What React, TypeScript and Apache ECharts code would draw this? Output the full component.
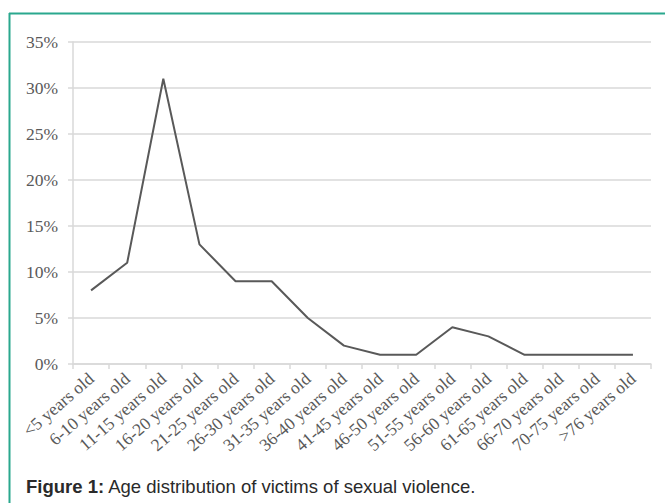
import React, { useEffect, useRef } from "react";
import * as echarts from "echarts";

const categories = [
  "<5 years old", "6-10 years old", "11-15 years old", "16-20 years old",
  "21-25 years old", "26-30 years old", "31-35 years old", "36-40 years old",
  "41-45 years old", "46-50 years old", "51-55 years old", "56-60 years old",
  "61-65 years old", "66-70 years old", "70-75 years old", ">76 years old",
];
const values = [8, 11, 31, 13, 9, 9, 5, 2, 1, 1, 4, 3, 1, 1, 1, 1];
const yMax = 35;
const yStep = 5;
const caption = "Age distribution of victims of sexual violence.";
const captionLabel = "Figure 1:";

export default function App() {
  const ref = useRef<HTMLDivElement>(null);
  useEffect(() => {
    if (!ref.current) return;
    const chart = echarts.init(ref.current, null, { renderer: "svg" });
    const gray = "#d9d9d9";
    chart.setOption({
      animation: false,
      backgroundColor: "#ffffff",
      grid: { left: 73, right: 14, top: 42, bottom: 139, containLabel: false },
      xAxis: {
        type: "category",
        data: categories,
        boundaryGap: true,
        axisLine: { show: true, lineStyle: { color: gray, width: 1.5 } },
        axisTick: { show: true, length: 5, lineStyle: { color: gray, width: 1.5 } },
        axisLabel: {
          interval: 0,
          rotate: 41,
          margin: 12,
          fontFamily: "Liberation Serif",
          fontSize: 17.5,
          color: "#595959",
        },
        splitLine: { show: false },
      },
      yAxis: {
        type: "value",
        min: 0,
        max: yMax,
        interval: yStep,
        axisLine: { show: true, lineStyle: { color: gray, width: 1.5 } },
        axisTick: { show: true, length: 5, lineStyle: { color: gray, width: 1.5 } },
        axisLabel: {
          formatter: "{value}%",
          margin: 15,
          fontFamily: "Liberation Serif",
          fontSize: 17.5,
          color: "#595959",
        },
        splitLine: { show: true, lineStyle: { color: gray, width: 1.5 } },
      },
      series: [
        {
          type: "line",
          data: values,
          showSymbol: false,
          symbol: "none",
          lineStyle: { color: "#595959", width: 2 },
        },
      ],
      graphic: [
        {
          type: "line",
          shape: { x1: 9, y1: 13.5, x2: 665, y2: 13.5 },
          style: { stroke: "#2aa88e", lineWidth: 2 },
        },
        {
          type: "line",
          shape: { x1: 9.5, y1: 13, x2: 9.5, y2: 503 },
          style: { stroke: "#2aa88e", lineWidth: 2 },
        },
        {
          type: "text",
          left: 26,
          top: 477,
          style: {
            text: "{b|" + captionLabel + "} " + caption,
            fontFamily: "Liberation Sans",
            fontSize: 18.5,
            fill: "#2a2a2a",
            rich: {
              b: { fontWeight: "bold", fontFamily: "Liberation Sans", fontSize: 18.5, fill: "#2a2a2a" },
            },
          },
        },
      ],
    });
    return () => chart.dispose();
  }, []);
  return (
    <div
      ref={ref}
      style={{ position: "fixed", left: 0, top: 0, width: 665, height: 503 }}
    />
  );
}
